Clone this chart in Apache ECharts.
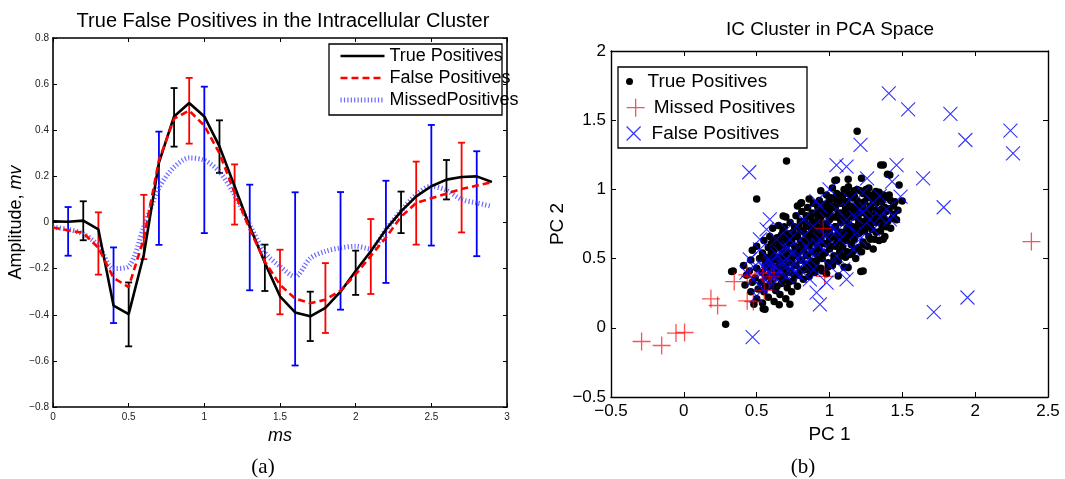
<!DOCTYPE html>
<html><head><meta charset="utf-8">
<script src="https://cdn.jsdelivr.net/npm/echarts@6/dist/echarts.min.js"></script>
<style>html,body{margin:0;padding:0;background:#fff}#c{width:1065px;height:479px}</style>
</head><body><div id="c"></div>
<script>
// ---------- Panel (a): mean waveforms ----------
const timeMs = [0,0.1,0.2,0.3,0.4,0.5,0.6,0.7,0.8,0.9,1.0,1.1,1.2,1.3,1.4,1.5,1.6,1.7,1.8,1.9,2.0,2.1,2.2,2.3,2.4,2.5,2.6,2.7,2.8,2.9];
const truePosMean = [0.005,0.003,0.008,-0.03,-0.36,-0.397,-0.14,0.26,0.46,0.518,0.46,0.33,0.157,-0.017,-0.175,-0.32,-0.39,-0.407,-0.37,-0.30,-0.21,-0.125,-0.03,0.048,0.113,0.157,0.186,0.197,0.2,0.176];
const falsePosMean = [-0.022,-0.034,-0.045,-0.11,-0.24,-0.28,-0.07,0.27,0.45,0.485,0.42,0.30,0.13,-0.03,-0.17,-0.27,-0.33,-0.35,-0.335,-0.295,-0.225,-0.145,-0.065,0.025,0.085,0.105,0.125,0.145,0.16,0.175];
const missedPosMean = [-0.02,-0.03,-0.05,-0.10,-0.20,-0.19,-0.02,0.15,0.24,0.28,0.27,0.22,0.12,-0.01,-0.13,-0.19,-0.235,-0.155,-0.125,-0.11,-0.103,-0.115,-0.03,0.05,0.12,0.157,0.14,0.10,0.085,0.07];

// error bars: [x, low, high]
const truePosErr = [[0.2,-0.077,0.092],[0.5,-0.537,-0.26],[0.8,0.329,0.583],[1.1,0.215,0.443],[1.4,-0.297,-0.096],[1.7,-0.514,-0.30],[2.0,-0.314,-0.122],[2.3,-0.046,0.134],[2.6,0.10,0.271]];
const falsePosErr = [[0.3,-0.226,0.044],[0.6,-0.159,0.12],[0.9,0.342,0.627],[1.2,-0.009,0.252],[1.5,-0.398,-0.118],[1.8,-0.479,-0.176],[2.1,-0.31,0.015],[2.4,-0.096,0.264],[2.7,-0.043,0.346]];
const missedPosErr = [[0.1,-0.144,0.067],[0.4,-0.436,-0.108],[0.7,-0.097,0.394],[1.0,-0.046,0.589],[1.3,-0.294,0.164],[1.6,-0.62,0.131],[1.9,-0.378,0.132],[2.2,-0.262,0.181],[2.5,-0.10,0.423],[2.8,-0.146,0.309]];

// ---------- Panel (b): PCA scatter ----------
const tpPCA = [
[1.19,1.42],[0.705,1.205],[0.50,0.93],[0.287,0.026],[0.328,0.407],[1.215,0.407],[1.499,0.917],[1.352,1.177],[1.398,1.11],[1.478,1.032],[0.655,0.166],[0.728,0.171],[0.545,0.137],[0.481,0.171],[0.803,0.9],[1.037,1.064],[0.682,0.808],[1.369,1.176],[1.048,1.068],[1.128,1.073],[1.22,1.08],[1.254,0.984],[1.318,0.984],[1.414,1.104],[1.369,0.639],[1.231,0.41],[1.128,0.435],[1.06,0.374],[0.557,0.134],[0.339,0.41],[0.808,0.904],[1.11,0.976],[1.19,1.0],
[0.42,0.31],[0.43,0.38],[0.41,0.45],
[0.46,0.26],[0.47,0.33],[0.45,0.41],[0.46,0.49],[0.47,0.56],
[0.50,0.21],[0.51,0.28],[0.49,0.36],[0.50,0.43],[0.52,0.50],[0.50,0.59],
[0.54,0.18],[0.55,0.26],[0.53,0.33],[0.54,0.40],[0.56,0.47],[0.54,0.54],[0.55,0.63],
[0.58,0.22],[0.59,0.30],[0.57,0.37],[0.58,0.44],[0.60,0.51],[0.58,0.58],[0.59,0.66],
[0.62,0.19],[0.63,0.27],[0.61,0.35],[0.62,0.42],[0.64,0.49],[0.62,0.56],[0.63,0.63],[0.61,0.72],
[0.66,0.24],[0.67,0.32],[0.65,0.39],[0.66,0.46],[0.68,0.53],[0.66,0.60],[0.67,0.67],[0.65,0.74],
[0.70,0.21],[0.71,0.29],[0.69,0.37],[0.70,0.44],[0.72,0.51],[0.70,0.58],[0.71,0.65],[0.69,0.73],[0.70,0.80],
[0.74,0.26],[0.75,0.34],[0.73,0.41],[0.74,0.48],[0.76,0.55],[0.74,0.62],[0.75,0.69],[0.73,0.76],
[0.78,0.30],[0.79,0.38],[0.77,0.45],[0.78,0.52],[0.80,0.59],[0.78,0.66],[0.79,0.73],[0.77,0.81],[0.78,0.88],
[0.82,0.35],[0.83,0.42],[0.81,0.49],[0.82,0.56],[0.84,0.63],[0.82,0.70],[0.83,0.77],[0.81,0.84],
[0.86,0.37],[0.87,0.45],[0.85,0.52],[0.86,0.59],[0.88,0.66],[0.86,0.73],[0.87,0.80],[0.85,0.87],[0.86,0.93],
[0.90,0.40],[0.91,0.48],[0.89,0.55],[0.90,0.62],[0.92,0.69],[0.90,0.76],[0.91,0.83],[0.89,0.90],
[0.94,0.43],[0.95,0.50],[0.93,0.57],[0.94,0.64],[0.96,0.71],[0.94,0.78],[0.95,0.85],[0.93,0.92],[0.94,0.99],
[0.98,0.39],[0.99,0.47],[0.97,0.54],[0.98,0.61],[1.00,0.68],[0.98,0.75],[0.99,0.82],[0.97,0.89],[0.98,0.96],
[1.02,0.45],[1.03,0.52],[1.01,0.59],[1.02,0.66],[1.04,0.73],[1.02,0.80],[1.03,0.87],[1.01,0.94],[1.02,1.01],
[1.06,0.48],[1.07,0.55],[1.05,0.62],[1.06,0.69],[1.08,0.76],[1.06,0.83],[1.07,0.90],[1.05,0.97],
[1.10,0.44],[1.11,0.51],[1.09,0.58],[1.10,0.65],[1.12,0.72],[1.10,0.79],[1.11,0.86],[1.09,0.93],[1.10,1.00],
[1.14,0.53],[1.15,0.60],[1.13,0.67],[1.14,0.74],[1.16,0.81],[1.14,0.88],[1.15,0.95],[1.13,1.02],
[1.18,0.50],[1.19,0.57],[1.17,0.64],[1.18,0.71],[1.20,0.78],[1.18,0.85],[1.19,0.92],[1.17,0.99],
[1.22,0.55],[1.23,0.62],[1.21,0.69],[1.22,0.76],[1.24,0.83],[1.22,0.90],[1.23,0.97],
[1.26,0.59],[1.27,0.66],[1.25,0.73],[1.26,0.80],[1.28,0.87],[1.26,0.94],[1.27,1.01],
[1.30,0.57],[1.31,0.64],[1.29,0.71],[1.30,0.78],[1.32,0.85],[1.30,0.92],
[1.34,0.63],[1.35,0.70],[1.33,0.77],[1.34,0.84],[1.36,0.91],[1.34,0.98],
[1.38,0.66],[1.39,0.73],[1.37,0.80],[1.38,0.87],[1.40,0.94],
[1.42,0.72],[1.43,0.79],[1.41,0.86],[1.42,0.92],
[1.46,0.78],[1.47,0.85],[1.45,0.91],
[0.56,0.30],[0.56,0.37],[0.56,0.44],[0.56,0.51],
[0.60,0.33],[0.60,0.40],[0.60,0.47],[0.60,0.54],[0.60,0.61],
[0.64,0.30],[0.64,0.37],[0.64,0.44],[0.64,0.51],[0.64,0.58],[0.64,0.65],
[0.68,0.35],[0.68,0.42],[0.68,0.49],[0.68,0.56],[0.68,0.63],[0.68,0.70],
[0.72,0.33],[0.72,0.40],[0.72,0.47],[0.72,0.54],[0.72,0.61],[0.72,0.68],
[0.76,0.38],[0.76,0.45],[0.76,0.52],[0.76,0.59],[0.76,0.66],[0.76,0.73],
[0.80,0.42],[0.80,0.49],[0.80,0.56],[0.80,0.63],[0.80,0.70],[0.80,0.77],
[0.84,0.46],[0.84,0.53],[0.84,0.60],[0.84,0.67],[0.84,0.74],[0.84,0.81],
[0.88,0.48],[0.88,0.55],[0.88,0.62],[0.88,0.69],[0.88,0.76],[0.88,0.83],
[0.92,0.52],[0.92,0.59],[0.92,0.66],[0.92,0.73],[0.92,0.80],[0.92,0.87],
[0.96,0.54],[0.96,0.61],[0.96,0.68],[0.96,0.75],[0.96,0.82],[0.96,0.89],
[1.00,0.57],[1.00,0.64],[1.00,0.71],[1.00,0.78],[1.00,0.85],[1.00,0.92],
[1.04,0.59],[1.04,0.66],[1.04,0.73],[1.04,0.80],[1.04,0.87],[1.04,0.94],
[1.08,0.62],[1.08,0.69],[1.08,0.76],[1.08,0.83],[1.08,0.90],
[1.12,0.63],[1.12,0.70],[1.12,0.77],[1.12,0.84],[1.12,0.91],
[1.16,0.66],[1.16,0.73],[1.16,0.80],[1.16,0.87],[1.16,0.94],
[1.20,0.68],[1.20,0.75],[1.20,0.82],[1.20,0.89],
[1.24,0.70],[1.24,0.77],[1.24,0.84],[1.24,0.91],
[1.28,0.74],[1.28,0.81],[1.28,0.88],
[1.32,0.76],[1.32,0.83],[1.32,0.90],
[1.36,0.79],[1.36,0.86],
[0.90,0.71],[0.93,0.80],[0.97,0.85],[1.01,0.88],[1.05,0.91],[1.09,0.96],[1.13,0.97],[1.17,0.95],[1.21,0.99],[1.25,1.00],[1.29,0.96],[1.33,0.94],[1.37,0.96],[1.41,0.96],[1.44,0.88],[1.44,0.82],[1.40,0.77],[1.36,0.74],[1.32,0.69],[1.28,0.64],[1.24,0.60],[1.20,0.58],[1.16,0.55],[1.12,0.55],[1.08,0.52],[1.03,0.49],[0.99,0.44],[0.95,0.41],[0.91,0.44],[0.87,0.41],
[1.07,0.79],[1.11,0.81],[1.15,0.84],[1.19,0.87],[1.23,0.87],[1.27,0.84],[1.31,0.81],[1.35,0.82],[1.39,0.84],[1.27,0.77],[1.23,0.72],[1.19,0.68],[1.15,0.70],[1.11,0.67],[1.07,0.65]
];
const missedPCA = [[2.386,0.623],[-0.29,-0.099],[-0.152,-0.128],[-0.054,-0.038],[0.005,-0.034],[0.186,0.209],[0.232,0.161],[0.435,0.195],[0.346,0.334],[0.435,0.383],[0.54,0.395],[0.552,0.27],[0.586,0.351],[0.956,0.719],[0.967,0.371],[0.454,0.371],[0.477,0.19],[0.545,0.395],[0.60,0.37],[0.62,0.40]];
const falsePCA = [
[1.407,1.694],[1.54,1.578],[1.83,1.545],[1.933,1.357],[2.242,1.424],[2.26,1.26],[1.643,1.08],[1.784,0.871],[1.716,0.113],[1.947,0.219],[0.449,1.124],[0.472,-0.067],[1.213,1.321],
[1.048,1.176],[1.117,1.164],[1.46,1.176],[1.258,1.08],[1.43,1.056],[1.488,0.948],[1.0,1.0],[0.91,0.915],[0.82,0.784],[0.705,0.711],[0.59,0.784],[0.568,0.711],[0.636,0.639],[0.522,0.567],[0.453,0.495],[0.43,0.398],[0.476,0.35],[0.545,0.447],[0.613,0.422],[0.682,0.471],[0.751,0.543],[0.842,0.591],[0.934,0.639],[1.025,0.711],[1.117,0.784],[1.208,0.856],[1.3,0.904],[1.391,0.856],[1.414,0.784],[1.277,0.784],[1.185,0.687],[1.071,0.639],[0.957,0.567],[0.865,0.495],[0.774,0.447],[0.797,0.374],[0.865,0.35],[1.002,0.447],[1.117,0.35],[0.911,0.254],[0.934,0.17],[0.705,0.567],[0.728,0.639],[0.82,0.663],[0.98,0.784],[1.048,0.856],[1.14,0.928],[1.231,0.976],[1.345,0.952],[1.3,0.711],[1.163,0.567],[1.048,0.519],[0.797,0.519],[0.636,0.35],[0.522,0.302],[0.499,0.23],[0.705,0.374],[0.59,0.471],[0.888,0.422],[0.98,0.326],[0.659,0.543],[0.774,0.735],[0.934,0.88],[0.888,0.735],[1.208,0.639],[1.094,0.422],[1.437,0.808],[0.522,0.639],
[0.56,0.42],[0.62,0.45],[0.66,0.40],[0.70,0.50],[0.74,0.44],[0.78,0.50],[0.72,0.58],[0.64,0.53],[0.58,0.50],[0.68,0.45],[0.76,0.40],[0.62,0.37],[0.82,0.46],[0.86,0.55],[0.92,0.60],[0.98,0.66],[1.05,0.70],[1.12,0.74],[1.18,0.80],[1.25,0.86],[1.35,0.80],[0.55,0.36],[0.60,0.30],[0.48,0.44]
];

const FONT = '"Liberation Sans", Arial, Helvetica, sans-serif';
const SERIF = '"Liberation Serif", "Times New Roman", serif';
const minus = v => (v < 0 ? '\u2212' + String(Math.abs(+v.toFixed(2))) : String(+v.toFixed(2)));

function errRender(color) {
  return function (params, api) {
    const x = api.value(0);
    const lo = api.coord([x, api.value(1)]);
    const hi = api.coord([x, api.value(2)]);
    const w = 3.5;
    const st = { stroke: color, lineWidth: 1.8 };
    return { type: 'group', children: [
      { type: 'line', shape: { x1: lo[0], y1: lo[1], x2: hi[0], y2: hi[1] }, style: st },
      { type: 'line', shape: { x1: hi[0] - w, y1: hi[1], x2: hi[0] + w, y2: hi[1] }, style: st },
      { type: 'line', shape: { x1: lo[0] - w, y1: lo[1], x2: lo[0] + w, y2: lo[1] }, style: st }
    ]};
  };
}
const zip = (xs, ys) => xs.map((x, i) => [x, ys[i]]);
function boxAxis(base, extra) { return Object.assign({}, base, extra); }

const leftX = { type: 'value', gridIndex: 0, min: 0, max: 3, interval: 0.5,
  axisLine: { onZero: false, lineStyle: { color: '#000', width: 1.6 } }, axisTick: { inside: true, length: 4, lineStyle: { color: '#000', width: 1 } },
  splitLine: { show: false } };
const leftY = { type: 'value', gridIndex: 0, min: -0.8, max: 0.8, interval: 0.2,
  axisLine: { onZero: false, lineStyle: { color: '#000', width: 1.6 } }, axisTick: { inside: true, length: 4, lineStyle: { color: '#000', width: 1 } },
  splitLine: { show: false } };
const rightX = { type: 'value', gridIndex: 1, min: -0.5, max: 2.5, interval: 0.5,
  axisLine: { onZero: false, lineStyle: { color: '#000', width: 1.4 } }, axisTick: { inside: true, length: 5, lineStyle: { color: '#000', width: 1 } },
  splitLine: { show: false } };
const rightY = { type: 'value', gridIndex: 1, min: -0.5, max: 2, interval: 0.5,
  axisLine: { onZero: false, lineStyle: { color: '#000', width: 1.4 } }, axisTick: { inside: true, length: 5, lineStyle: { color: '#000', width: 1 } },
  splitLine: { show: false } };

const chart = echarts.init(document.getElementById('c'), null, { renderer: 'canvas' });
chart.setOption({
  backgroundColor: '#fff',
  animation: false,
  grid: [
    { left: 53, top: 38, width: 454, height: 369 },
    { left: 611, top: 51, width: 437, height: 346 }
  ],
  xAxis: [
    boxAxis(leftX, { position: 'bottom', name: 'ms', nameLocation: 'middle', nameGap: 18,
      nameTextStyle: { fontFamily: FONT, fontSize: 18, fontStyle: 'italic', color: '#000' },
      axisLabel: { fontFamily: FONT, fontSize: 10, color: '#222', margin: 5, formatter: minus } }),
    boxAxis(leftX, { position: 'top', axisLabel: { show: false } }),
    boxAxis(rightX, { position: 'bottom', name: 'PC 1', nameLocation: 'middle', nameGap: 22,
      nameTextStyle: { fontFamily: FONT, fontSize: 19, color: '#000' },
      axisLabel: { fontFamily: FONT, fontSize: 17, color: '#000', margin: 6, formatter: minus } }),
    boxAxis(rightX, { position: 'top', axisLabel: { show: false } })
  ],
  yAxis: [
    boxAxis(leftY, { position: 'left', name: 'Amplitude, {i|mv}', nameLocation: 'middle', nameGap: 28,
      nameTextStyle: { fontFamily: FONT, fontSize: 18, color: '#000', rich: { i: { fontFamily: FONT, fontSize: 18, fontStyle: 'italic', color: '#000' } } },
      axisLabel: { fontFamily: FONT, fontSize: 10, color: '#222', margin: 4, formatter: minus } }),
    boxAxis(leftY, { position: 'right', axisLabel: { show: false } }),
    boxAxis(rightY, { position: 'left', name: 'PC 2', nameLocation: 'middle', nameGap: 44,
      nameTextStyle: { fontFamily: FONT, fontSize: 19, color: '#000' },
      axisLabel: { fontFamily: FONT, fontSize: 17, color: '#000', margin: 5, formatter: minus } }),
    boxAxis(rightY, { position: 'right', axisLabel: { show: false } })
  ],
  legend: [
    { data: ['True Positives', 'False Positives', 'MissedPositives'], orient: 'vertical', left: 338, top: 47,
      itemWidth: 44, itemHeight: 12, itemGap: 4, padding: 0, z: 10,
      itemStyle: { color: 'rgba(0,0,0,0)', borderWidth: 0, opacity: 0 },
      lineStyle: { width: 'inherit' },
      textStyle: { fontFamily: FONT, fontSize: 18, color: '#000', lineHeight: 18 } },
    { data: ['True Positives '], left: 626, top: 72, itemWidth: 26, itemHeight: 7, padding: 0, z: 10,
      textStyle: { fontFamily: FONT, fontSize: 19, color: '#000', lineHeight: 19 } },
    { data: ['Missed Positives'], left: 626, top: 98, itemWidth: 26, itemHeight: 18, padding: 0, z: 10,
      itemStyle: { borderWidth: 1.3 },
      textStyle: { fontFamily: FONT, fontSize: 19, color: '#000', lineHeight: 19 } },
    { data: ['False Positives '], left: 626, top: 124, itemWidth: 26, itemHeight: 14, padding: 0, z: 10,
      itemStyle: { borderWidth: 1.2 },
      textStyle: { fontFamily: FONT, fontSize: 19, color: '#000', lineHeight: 19 } }
  ],
  graphic: [
    { type: 'rect', z: 5, shape: { x: 329, y: 44, width: 173, height: 71 }, style: { fill: '#fff', stroke: '#000', lineWidth: 1.3 } },
    { type: 'rect', z: 5, shape: { x: 618, y: 67, width: 189, height: 81 }, style: { fill: '#fff', stroke: '#000', lineWidth: 1.3 } },
    { type: 'text', z: 10, x: 283, y: 21, style: { text: 'True False Positives in the Intracellular Cluster', font: '20px ' + FONT, fill: '#000', align: 'center', verticalAlign: 'middle', textAlign: 'center', textVerticalAlign: 'middle' } },
    { type: 'text', z: 10, x: 830, y: 30, style: { text: 'IC Cluster in PCA Space', font: '19px ' + FONT, fill: '#000', align: 'center', verticalAlign: 'middle', textAlign: 'center', textVerticalAlign: 'middle' } },
    { type: 'text', z: 10, x: 263, y: 467, style: { text: '(a)', font: '21px ' + SERIF, fill: '#000', align: 'center', verticalAlign: 'middle', textAlign: 'center', textVerticalAlign: 'middle' } },
    { type: 'text', z: 10, x: 803, y: 467, style: { text: '(b)', font: '21px ' + SERIF, fill: '#000', align: 'center', verticalAlign: 'middle', textAlign: 'center', textVerticalAlign: 'middle' } }
  ],
  series: [
    { type: 'line', name: 'MissedPositives', xAxisIndex: 0, yAxisIndex: 0, data: zip(timeMs, missedPosMean), symbol: 'none', smooth: 0.3,
      lineStyle: { color: 'rgba(70,70,255,0.8)', width: 5, type: [1.2, 2.2], cap: 'butt' }, itemStyle: { color: 'rgba(70,70,255,0.8)' } },
    { type: 'line', name: 'True Positives', xAxisIndex: 0, yAxisIndex: 0, data: zip(timeMs, truePosMean), symbol: 'none',
      lineStyle: { color: '#000', width: 2.6 }, itemStyle: { color: '#000' } },
    { type: 'line', name: 'False Positives', xAxisIndex: 0, yAxisIndex: 0, data: zip(timeMs, falsePosMean), symbol: 'none',
      lineStyle: { color: '#ff0000', width: 2.6, type: [7, 4] }, itemStyle: { color: '#ff0000' } },
    { type: 'custom', name: 'TP err', xAxisIndex: 0, yAxisIndex: 0, data: truePosErr, encode: { x: 0, y: [1, 2] }, renderItem: errRender('#000'), z: 3 },
    { type: 'custom', name: 'FP err', xAxisIndex: 0, yAxisIndex: 0, data: falsePosErr, encode: { x: 0, y: [1, 2] }, renderItem: errRender('#ff0000'), z: 3 },
    { type: 'custom', name: 'MP err', xAxisIndex: 0, yAxisIndex: 0, data: missedPosErr, encode: { x: 0, y: [1, 2] }, renderItem: errRender('#0000ff'), z: 3 },

    { type: 'scatter', name: 'True Positives ', xAxisIndex: 2, yAxisIndex: 2, data: tpPCA, symbol: 'circle', symbolSize: 7.5,
      itemStyle: { color: '#000', opacity: 1 } },
    { type: 'scatter', name: 'Missed Positives', xAxisIndex: 2, yAxisIndex: 2, data: missedPCA, symbol: 'path://M5,0L5,10M0,5L10,5', symbolSize: 18, symbolKeepAspect: true,
      itemStyle: { color: 'rgba(0,0,0,0)', borderColor: 'rgba(255,0,0,0.85)', borderWidth: 1.3 } },
    { type: 'scatter', name: 'False Positives ', xAxisIndex: 2, yAxisIndex: 2, data: falsePCA, symbol: 'path://M0,0L10,10M10,0L0,10', symbolSize: 14, symbolKeepAspect: true,
      itemStyle: { color: 'rgba(0,0,0,0)', borderColor: '#0000ff', borderWidth: 1.1 } }
  ]
});
</script>
</body></html>
